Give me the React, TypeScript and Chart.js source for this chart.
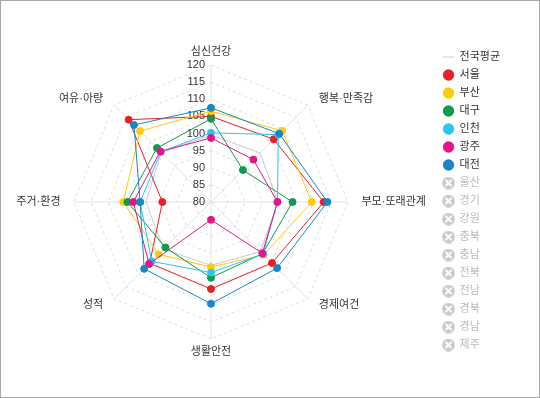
import React, { useEffect, useRef } from "react";
import { Chart, registerables } from "chart.js";

Chart.register(...registerables);

const axes = ["심신건강", "행복·만족감", "부모·또래관계", "경제여건", "생활안전", "성적", "주거·환경", "여유·아량"];
const tickValues = [80, 85, 90, 95, 100, 105, 110, 115, 120];

const national = [99.5, 100.3, 99.5, 100.5, 98.5, 99.5, 99, 100.5];
const seoul = [105, 105.9, 112.9, 105.2, 105.4, 105.3, 94.2, 114];
const busan = [106.5, 109.4, 109.4, 101.8, 99.0, 101.6, 105.6, 109.3];
const daegu = [104.3, 93.2, 103.8, 101.3, 102.1, 98.8, 104.4, 102.3];
const incheon = [100.2, 107.8, 99.4, 101.5, 100.6, 104.5, 100.7, 100.7];
const gwangju = [98.7, 97.5, 99.4, 101.2, 85.2, 105.6, 102.7, 100.9];
const daejeon = [107.5, 108.2, 114, 107.3, 109.7, 107.6, 100.7, 111.8];

const shownNames = ["서울", "부산", "대구", "인천", "광주", "대전"];
const shownColors = ["#e8202a", "#fccb0b", "#10994f", "#2bc6f0", "#e5148b", "#1a86c8"];
const shownData = [seoul, busan, daegu, incheon, gwangju, daejeon];
const hiddenNames = ["울산", "경기", "강원", "충북", "충남", "전북", "전남", "경북", "경남", "제주"];

const FONT = "'Liberation Sans', 'Noto Sans CJK KR', sans-serif";

function makeHiddenIcon(): HTMLCanvasElement {
  const c = document.createElement("canvas");
  c.width = 13;
  c.height = 13;
  const g = c.getContext("2d")!;
  g.fillStyle = "#c9c9c9";
  g.beginPath();
  g.arc(6.5, 6.5, 6.3, 0, Math.PI * 2);
  g.fill();
  g.strokeStyle = "#ffffff";
  g.lineWidth = 2;
  g.lineCap = "round";
  g.beginPath();
  g.moveTo(4, 4);
  g.lineTo(9, 9);
  g.moveTo(9, 4);
  g.lineTo(4, 9);
  g.stroke();
  return c;
}

// tick labels left of the vertical axis, point labels around the web
const labelPlugin = {
  id: "radarLabels",
  beforeDatasetsDraw(chart: any) {
    const scale = chart.scales.r;
    const ctx = chart.ctx;
    ctx.save();
    ctx.font = `11px ${FONT}`;
    ctx.fillStyle = "#333333";
    ctx.textAlign = "right";
    ctx.textBaseline = "middle";
    tickValues.forEach((v) => {
      const d = scale.getDistanceFromCenterForValue(v);
      ctx.fillText(String(v), scale.xCenter - 6, scale.yCenter - d);
    });
    axes.forEach((name, i) => {
      const p = scale.getPointPosition(i, scale.drawingArea);
      const ang = scale.getIndexAngle(i) - Math.PI / 2;
      const ax = Math.cos(ang);
      const ay = Math.sin(ang);
      let x = p.x;
      let y = p.y;
      if (Math.abs(ax) < 0.01) {
        ctx.textAlign = "center";
        y += ay * 13;
      } else {
        ctx.textAlign = ax > 0 ? "left" : "right";
        const horiz = Math.abs(ay) < 0.01;
        x += Math.sign(ax) * (horiz ? 13.5 : 11);
        y += ay * 8.5;
      }
      ctx.fillText(name, x, y);
    });
    ctx.restore();
  },
};

export default function App() {
  const ref = useRef<HTMLCanvasElement>(null);
  useEffect(() => {
    document.body.style.margin = "0";
    const hiddenIcon = makeHiddenIcon();
    const datasets: any[] = [
      {
        label: "전국평균",
        data: national,
        borderColor: "#cccccc",
        backgroundColor: "#cccccc",
        borderWidth: 1,
        pointRadius: 0,
        pointStyle: "line",
        fill: false,
        order: 10,
      },
      ...shownNames.map((n, i) => ({
        label: n,
        data: shownData[i],
        borderColor: shownColors[i],
        backgroundColor: shownColors[i],
        pointBackgroundColor: shownColors[i],
        pointBorderColor: shownColors[i],
        borderWidth: 1,
        pointRadius: 3.5,
        pointStyle: "circle",
        fill: false,
        order: 6 - i,
      })),
      ...hiddenNames.map((n) => ({
        label: n,
        data: [] as number[],
        hidden: true,
        borderColor: "#cccccc",
        backgroundColor: "#cccccc",
      })),
    ];
    const chart = new Chart(ref.current!, {
      type: "radar",
      data: { labels: axes, datasets },
      plugins: [labelPlugin],
      options: {
        animation: false,
        responsive: true,
        maintainAspectRatio: false,
        layout: { padding: { left: 0, right: 29, top: 14, bottom: 10 } },
        elements: { line: { tension: 0 } },
        scales: {
          r: {
            min: 80,
            max: 120,
            ticks: { stepSize: 5, display: false },
            grid: { color: "#dddddd", lineWidth: 1 },
            border: { dash: [3, 3] } as any,
            angleLines: { color: "#e3e3e3", lineWidth: 1 },
            pointLabels: { display: false },
            afterFit(scale: any) {
              scale.xCenter = 210;
              scale.yCenter = 201;
              scale.drawingArea = 137;
            },
          } as any,
        },
        plugins: {
          tooltip: { enabled: false },
          legend: {
            position: "right",
            labels: {
              usePointStyle: true,
              boxHeight: 8,
              padding: 7,
              font: { size: 11, family: FONT },
              color: "#333333",
              generateLabels(ch: any) {
                return ch.data.datasets.map((ds: any, i: number) => {
                  const hidden = !ch.isDatasetVisible(i);
                  return {
                    text: ds.label,
                    datasetIndex: i,
                    hidden: false,
                    fillStyle: ds.backgroundColor,
                    strokeStyle: ds.borderColor,
                    lineWidth: i === 0 ? 1 : 0,
                    pointStyle: hidden ? hiddenIcon : ds.pointStyle,
                    fontColor: hidden ? "#bbbbbb" : "#333333",
                  };
                });
              },
            },
          },
        },
      },
    });
    return () => chart.destroy();
  }, []);
  return (
    <div style={{ position: "relative", width: 540, height: 398, boxSizing: "border-box", border: "1px solid #a8a8a8" }}>
      <canvas ref={ref} />
    </div>
  );
}
